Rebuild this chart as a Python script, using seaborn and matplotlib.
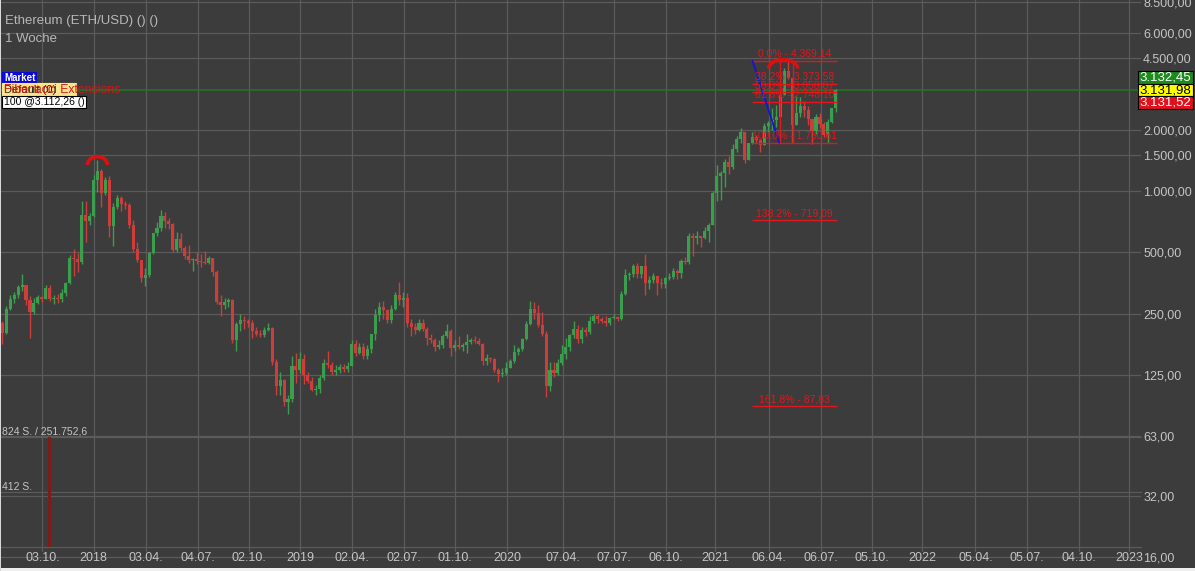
import numpy as np
import pandas as pd
import matplotlib
matplotlib.use("Agg")
import matplotlib.pyplot as plt
import matplotlib.dates as mdates
from matplotlib.ticker import NullLocator
from matplotlib.transforms import ScaledTranslation, blended_transform_factory
from matplotlib.patches import Arc, Rectangle
import seaborn as sns

# ---------------- data (weekly candles, ETH/USD) ----------------
week_start = "2017-07-24"
opens = [225, 201, 264, 295, 310, 340, 345, 292, 255, 282, 302, 297, 336, 296, 300, 297, 316, 354, 470, 462, 448, 760, 715,
         755, 1130, 1260, 975, 1140, 674, 840, 920, 860, 850, 680, 522, 458, 373, 388, 496, 620, 660, 754, 710, 690, 515,
         585, 525, 480, 457, 463, 455, 447, 445, 468, 400, 285, 277, 285, 292, 185, 222, 232, 230, 226, 205, 200, 197,
         208, 212, 145, 110, 118, 92, 95, 139, 132,
         150, 125, 117, 106, 107, 121, 143, 140, 130, 133, 137, 134, 139, 178, 160, 172, 155, 168, 198, 247, 270, 262,
         232, 265, 308, 292, 300, 225, 215, 207, 225, 210, 190, 186, 172, 176, 195, 205, 170, 175, 172, 175, 182, 185,
         183, 178, 147, 152, 150, 133, 127, 128,
         136, 146, 162, 168, 189, 223, 265, 252, 220, 200, 110, 133, 128, 143, 158, 172, 196, 210, 188, 207, 203, 230,
         245, 235, 230, 225, 238, 241, 237, 311, 386, 392, 430, 392, 428, 353, 366, 384, 355, 352, 375, 378, 405, 395,
         455, 447, 600, 590, 600, 590, 640, 685,
         975, 1190, 1230, 1390, 1310, 1610, 1810, 1940, 1420, 1720, 1850, 1780, 1690, 2080, 2150, 2240, 2310, 2950,
         3900, 3580, 2100, 2420, 2630, 2500, 2250, 1980, 2320, 2140, 1895, 2190, 2560]
highs = [230, 272, 310, 320, 345, 392, 348, 305, 300, 310, 306, 346, 345, 310, 312, 330, 360, 485, 522, 495, 890, 890, 780,
         1200, 1420, 1290, 1170, 1180, 870, 960, 950, 890, 870, 720, 560, 460, 420, 500, 625, 705, 810, 790, 735, 700,
         630, 625, 535, 545, 470, 500, 490, 510, 480, 470, 410, 310, 300, 300, 295, 228, 250, 245, 235, 232, 215, 208,
         215, 225, 215, 150, 130, 120, 100, 155, 160, 162,
         158, 130, 122, 112, 125, 150, 165, 145, 140, 142, 142, 145, 185, 185, 180, 180, 175, 200, 265, 285, 290, 265,
         275, 320, 360, 320, 315, 235, 225, 235, 235, 215, 200, 190, 185, 200, 222, 210, 185, 195, 180, 198, 190, 195,
         190, 180, 158, 154, 152, 135, 135, 145,
         150, 175, 172, 190, 230, 290, 285, 275, 255, 205, 145, 145, 150, 175, 190, 200, 230, 220, 215, 215, 245, 250,
         250, 240, 245, 240, 250, 245, 325, 415, 400, 440, 445, 430, 490, 385, 395, 385, 375, 380, 395, 420, 415, 465,
         475, 620, 620, 635, 605, 665, 700, 1000,
         1350, 1260, 1440, 1480, 1700, 1870, 2040, 1950, 1720, 1950, 1880, 1800, 2150, 2200, 2550, 2640, 2960, 4000,
         4369, 3600, 2920, 2900, 2760, 2620, 2250, 2400, 2420, 2190, 2250, 2560, 3170]
lows = [178, 199, 262, 283, 300, 325, 275, 190, 250, 280, 285, 294, 290, 280, 283, 285, 305, 350, 385, 400, 440, 560, 680,
        745, 990, 840, 960, 597, 540, 820, 800, 820, 660, 500, 450, 360, 344, 380, 490, 600, 640, 660, 650, 505, 505,
        510, 465, 445, 405, 440, 425, 440, 438, 385, 280, 245, 265, 270, 180, 165, 205, 210, 215, 190, 195, 192, 193,
        205, 140, 100, 100, 88, 81, 92, 115, 128,
        113, 115, 104, 100, 102, 118, 135, 125, 125, 128, 130, 130, 138, 155, 158, 150, 150, 160, 185, 230, 235, 225,
        225, 260, 275, 270, 215, 195, 200, 205, 205, 175, 180, 165, 168, 170, 190, 155, 165, 168, 165, 160, 178, 180,
        175, 140, 140, 145, 130, 116, 123, 125,
        135, 143, 157, 165, 185, 220, 235, 215, 195, 98, 105, 122, 125, 140, 150, 165, 190, 180, 180, 195, 200, 225,
        225, 225, 218, 220, 235, 230, 233, 310, 365, 380, 375, 375, 310, 330, 355, 310, 335, 335, 365, 370, 370, 375,
        440, 440, 480, 550, 530, 580, 560, 685,
        890, 900, 1050, 1220, 1290, 1560, 1730, 1370, 1420, 1700, 1730, 1550, 1690, 1950, 2000, 2060, 2300, 2950,
        3550, 1731, 2100, 2300, 2320, 2100, 1700, 1900, 2050, 1850, 1720, 2150, 2450]
closes = [201, 264, 295, 310, 340, 345, 292, 255, 282, 302, 297, 336, 296, 300, 297, 316, 354, 470, 462, 448, 760, 715, 755,
          1130, 1260, 975, 1140, 674, 840, 920, 860, 850, 680, 522, 458, 373, 388, 496, 620, 660, 754, 710, 690, 515,
          585, 525, 480, 457, 463, 455, 447, 445, 468, 400, 285, 277, 285, 292, 185, 222, 232, 230, 226, 205, 200, 197,
          208, 212, 145, 110, 118, 92, 95, 139, 132, 150,
          125, 117, 106, 107, 121, 143, 140, 130, 133, 137, 134, 139, 178, 160, 172, 155, 168, 198, 247, 270, 262, 232,
          265, 308, 292, 300, 225, 215, 207, 225, 210, 190, 186, 172, 176, 195, 205, 170, 175, 172, 175, 182, 185, 183,
          178, 147, 152, 150, 133, 127, 128, 136,
          146, 162, 168, 189, 223, 265, 252, 220, 200, 110, 133, 128, 143, 158, 172, 196, 210, 188, 207, 203, 230, 245,
          235, 230, 225, 238, 241, 237, 311, 386, 392, 430, 392, 428, 353, 366, 384, 355, 352, 375, 378, 405, 395, 455,
          447, 600, 590, 600, 590, 640, 685, 975,
          1190, 1230, 1390, 1310, 1610, 1810, 1940, 1420, 1720, 1850, 1780, 1690, 2080, 2150, 2240, 2310, 2950, 3900,
          3580, 2100, 2420, 2630, 2500, 2250, 1980, 2320, 2140, 1895, 2190, 2560, 3131.98]

price_ticks = [16, 32, 63, 125, 250, 500, 1000, 1500, 2000, 4500, 6000, 8500]
date_ticks = ["2017-10-03", "2018-01-01", "2018-04-03", "2018-07-04", "2018-10-02", "2019-01-01", "2019-04-02",
              "2019-07-02", "2019-10-01", "2020-01-01", "2020-04-07", "2020-07-07", "2020-10-06", "2021-01-01",
              "2021-04-06", "2021-07-06", "2021-10-05", "2022-01-01", "2022-04-05", "2022-07-05", "2022-10-04",
              "2023-01-01"]
date_tick_labels = ["03.10.", "2018", "03.04.", "04.07.", "02.10.", "2019", "02.04.", "02.07.", "01.10.", "2020",
                    "07.04.", "07.07.", "06.10.", "2021", "06.04.", "06.07.", "05.10.", "2022", "05.04.", "05.07.",
                    "04.10.", "2023"]

vol_dates = ["2017-10-16"]
vol_values = [824]
vol_labels = ["824 S. / 251.752,6", "412 S."]
vol_label_levels = [824, 412]

fib_levels = [4369.14, 3373.58, 3058.87, 2748.10, 1730.61, 719.09, 87.83]
fib_labels = ["0.0% - 4.369,14", "38.2% - 3.373,58", "50.0% - 3.058,87", "61.8% - 2.748,10",
              "100.0% - 1.730,61", "138.2% - 719,09", "161.8% - 87,83"]
fib_span = ["2021-03-08", "2021-08-04"]
fib_verticals = ["2021-04-25", "2021-05-18"]
trend_dates = ["2021-03-08", "2021-04-24"]
trend_prices = [4369.14, 1730.61]
peak_marks = [("2018-01-08", 1420), ("2021-05-10", 4369)]

last_price = 3131.98
quote_prices = [3132.45, 3131.98, 3131.52]

title = "Ethereum (ETH/USD) () ()"
subtitle = "1 Woche"

# ---------------- style ----------------
W, H = 1195, 571
BG = "#3c3c3c"
GRID = "#5b5b5b"
TXT = "#c4c4c4"
GREEN = "#3b9e4e"
RED = "#cf3c3c"
FIB = "#e3161c"

sns.set_theme(style="dark", rc={"axes.facecolor": BG, "figure.facecolor": BG, "axes.edgecolor": BG,
                                "text.color": TXT, "xtick.color": TXT, "ytick.color": TXT})
plt.rcParams["font.family"] = ["Liberation Sans", "DejaVu Sans"]


def de(v):
    s = f"{v:,.2f}"
    return s.replace(",", "X").replace(".", ",").replace("X", ".")


fig = plt.figure(figsize=(W / 100, H / 100), dpi=100)
AX_R, AX_B = 1141, 566
ax = fig.add_axes([0, (H - AX_B) / H, AX_R / W, AX_B / H])
ax.set_yscale("log")
ax.set_ylim(14.46, 8668)
xl = (mdates.date2num(pd.Timestamp("2017-07-20 03:00")), mdates.date2num(pd.Timestamp("2023-01-22 02:00")))
ax.set_xlim(*xl)
for s in ax.spines.values():
    s.set_visible(False)

# grid
ax.set_yticks(price_ticks)
ax.set_yticklabels([de(t) for t in price_ticks])
ax.yaxis.set_minor_locator(NullLocator())
ax.yaxis.tick_right()
ax.grid(False)
for t in price_ticks:
    ax.axhline(t, color=GRID, lw=0.9, zorder=0)
xt = mdates.date2num(pd.to_datetime(date_ticks))
for v in xt:
    ax.axvline(v, ymin=0.026, ymax=1, color=GRID, lw=0.9, zorder=0)
ax.set_xticks(xt)
ax.set_xticklabels(date_tick_labels)
ax.xaxis.set_minor_locator(NullLocator())
ax.tick_params(axis="x", which="both", length=0, pad=-10, labelsize=9, labelcolor=TXT)
ax.tick_params(axis="y", which="both", length=0, pad=1.5, labelsize=9, labelcolor=TXT)

# candles
dates = pd.date_range(week_start, periods=len(opens), freq="7D")
x = mdates.date2num(dates)
o = np.array(opens, float); h = np.array(highs, float); l = np.array(lows, float); c = np.array(closes, float)
cols = np.where(c >= o, GREEN, RED)
ax.vlines(x, l, h, colors=cols, lw=1, zorder=3)
ax.bar(x, np.abs(c - o), bottom=np.minimum(o, c), width=5.4, color=cols, lw=0, zorder=4)

# current price line
ax.axhline(last_price, color="#1f7a22", lw=1.1, zorder=2)

# fibonacci tool
f0, f1 = mdates.date2num(pd.to_datetime(fib_span))
for lvl, lab in zip(fib_levels, fib_labels):
    ax.hlines(lvl, f0, f1, color=FIB, lw=1, zorder=6)
    ax.annotate(lab, xy=((f0 + f1) / 2, lvl), xytext=(0, 1.5), textcoords="offset points",
                ha="center", va="bottom", fontsize=7.5, color=FIB, zorder=7)
ax.vlines(mdates.date2num(pd.to_datetime(fib_verticals)), fib_levels[4], fib_levels[0], color=FIB, lw=1, zorder=6)
ax.plot(mdates.date2num(pd.to_datetime(trend_dates)), trend_prices, color="#1414d4", lw=1.3, zorder=6)

# peak arcs
arc_geo = [(0, -5, 20, 17), (-5, -8, 29, 18)]
for (d, p), (dx, dy, aw, ah) in zip(peak_marks, arc_geo):
    tr = ScaledTranslation(mdates.date2num(pd.Timestamp(d)), p, ax.transData)
    ax.add_patch(Arc((dx, dy), aw, ah, theta1=0, theta2=180, transform=tr, color="#e00f0f", lw=2.6, zorder=8))

# quote boxes on the price axis
btr = blended_transform_factory(ax.transAxes, ax.transData)
box_specs = [("#1c8a1c", "white", 12.5), ("#ffff00", "black", 0), ("#e0101c", "white", -12.5)]
for qp, (fc, tc, dy) in zip(quote_prices, box_specs):
    tr = ScaledTranslation(1.0, last_price, btr)
    r = Rectangle((-3, dy - 6.25), 55, 12.5, transform=tr, fc=fc, ec="black", lw=0.8, zorder=10, clip_on=False)
    ax.add_patch(r)
    ax.annotate(de(qp), xy=(1.0, last_price), xycoords=btr, xytext=(24.5 * 0.72, dy * 0.72),
                textcoords="offset points", ha="center", va="center", fontsize=9.5, color=tc,
                zorder=11, annotation_clip=False)

# volume pane
axv = fig.add_axes([0, (H - 547) / H, AX_R / W, 110 / H], facecolor="none")
axv.set_xlim(*xl)
axv.set_ylim(0, 824)
axv.axis("off")
axv.bar(mdates.date2num(pd.to_datetime(vol_dates)), vol_values, width=5.2, color="#7e1b1b", lw=0)
for lvl in [0, 412, 824]:
    axv.axhline(lvl, color=GRID, lw=0.9, clip_on=False, zorder=0)
vtr = blended_transform_factory(axv.transAxes, axv.transData)
for lab, lvl in zip(vol_labels, vol_label_levels):
    axv.text(0.0015, lvl, lab, transform=vtr, ha="left", va="bottom", fontsize=7.5, color=TXT)

# header texts
fig.text(5 / W, 1 - 21 / H, title, ha="left", va="center", fontsize=9.5, color="#b8b8b8")
fig.text(5 / W, 1 - 39 / H, subtitle, ha="left", va="center", fontsize=9.5, color="#b8b8b8")


def fig_rect(x0, y0, w, hgt, fc, ec=None):
    fig.add_artist(Rectangle((x0 / W, 1 - (y0 + hgt) / H), w / W, hgt / H, transform=fig.transFigure,
                             fc=fc, ec=ec if ec else fc, lw=0.8, zorder=15))


fig_rect(2, 72.5, 34, 10.5, "#0a0ad8")
fig.text(4 / W, 1 - 77.8 / H, "Market", ha="left", va="center", fontsize=7, fontweight="bold",
         color="white", zorder=16)
fig_rect(2, 83.5, 74, 12.5, "#fbe48a")
fig.text(4 / W, 1 - 89.8 / H, "Default (0)", ha="left", va="center", fontsize=8, color="#202020", zorder=16)
fig.text(4 / W, 1 - 89.8 / H, "Fibonacci Extensions", ha="left", va="center", fontsize=8.8, color="#d01818",
         zorder=17)
fig_rect(2, 96.5, 84, 11.5, "white", "black")
fig.text(4 / W, 1 - 102.3 / H, "100 @3.112,26 ()", ha="left", va="center", fontsize=7.5, color="black", zorder=16)

# frame
fig.add_artist(Rectangle((0, 0), 1, 3.5 / H, transform=fig.transFigure, fc="#efefef", lw=0, zorder=20))
fig.add_artist(Rectangle((0, 0), 1.2 / W, 1, transform=fig.transFigure, fc="#d8d8d8", lw=0, zorder=20))

fig.savefig("out.png", dpi=100, facecolor=BG)
